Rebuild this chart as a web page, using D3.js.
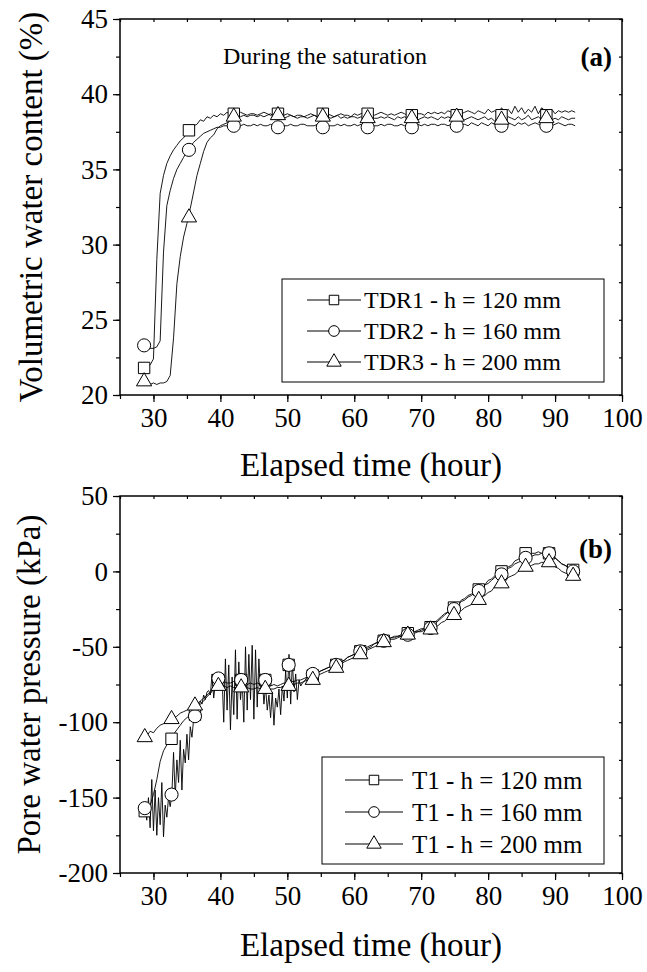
<!DOCTYPE html>
<html>
<head>
<meta charset="utf-8">
<script src="https://cdn.jsdelivr.net/npm/d3@7"></script>
<style>
  body { margin: 0; background: #fff; }
  text { font-family: "Liberation Serif", "Times New Roman", serif; fill: #000; }
</style>
</head>
<body>
<svg id="fig" width="647" height="972"></svg>
<script>
// ---------- data ----------
// top panel: volumetric water content (%), one sample every 0.5 h from 28.5 h to 93 h
const tdr1 = [
  21.8, 21.9, 22.0, 22.4, 29.0, 33.4, 34.6, 35.4, 35.9, 36.3,
  36.6, 36.9, 37.1, 37.4, 37.7, 37.9, 38.0, 38.3, 38.2, 38.5,
  38.4, 38.6, 38.5, 38.7, 38.6, 38.8, 38.6, 38.7, 38.7, 38.8,
  38.7, 38.6, 38.7, 38.7, 38.6, 38.7, 38.8, 38.7, 38.6, 38.7,
  38.6, 38.5, 38.6, 38.7, 38.6, 38.5, 38.6, 38.6, 38.5, 38.6,
  38.7, 38.6, 38.5, 38.6, 38.6, 38.7, 38.6, 38.5, 38.6, 38.7,
  38.6, 38.6, 38.5, 38.7, 38.6, 38.7, 38.8, 38.6, 38.7, 38.6,
  38.7, 38.8, 38.7, 38.6, 38.7, 38.6, 38.7, 38.8, 38.7, 38.6,
  38.7, 38.8, 38.7, 38.7, 38.6, 38.8, 38.7, 38.8, 38.7, 38.8,
  38.7, 38.9, 38.8, 38.7, 38.8, 38.7, 38.8, 38.9, 38.8, 38.7,
  38.9, 38.8, 38.7, 39.0, 38.8, 38.9, 38.7, 39.1, 38.8, 39.0,
  38.7, 39.2, 38.8, 39.1, 38.7, 39.0, 38.8, 39.2, 38.7, 39.1,
  38.9, 38.8, 39.0, 38.7, 38.9, 38.8, 38.9, 38.8, 38.9, 38.8
];
const tdr2 = [
  23.3, 23.2, 23.1, 23.1, 23.2, 23.6, 29.5, 32.6, 33.6, 34.4,
  35.0, 35.4, 35.8, 36.2, 36.5, 36.8, 37.0, 37.2, 37.4, 37.5,
  37.6, 37.7, 37.8, 37.8, 37.9, 37.9, 37.9, 38.0, 37.9, 37.9,
  38.0, 37.9, 37.9, 38.0, 37.9, 38.0, 37.9, 37.9, 38.0, 37.9,
  37.9, 38.0, 37.9, 37.9, 38.0, 37.9, 37.9, 38.0, 38.0, 37.9,
  37.9, 37.9, 38.0, 37.9, 38.0, 37.9, 37.9, 37.9, 38.0, 37.9,
  38.0, 37.9, 37.9, 38.0, 37.9, 38.0, 37.9, 37.9, 38.0, 37.9,
  37.9, 38.0, 37.9, 38.0, 38.0, 37.9, 37.9, 38.0, 37.9, 38.0,
  37.9, 38.0, 38.0, 37.9, 38.0, 37.9, 38.0, 38.0, 37.9, 38.0,
  38.0, 37.9, 38.0, 38.1, 37.9, 38.0, 38.0, 37.9, 38.1, 38.0,
  37.9, 38.1, 38.0, 37.9, 38.1, 38.0, 38.1, 37.9, 38.0, 38.1,
  38.0, 37.9, 38.1, 38.0, 38.1, 37.9, 38.0, 38.1, 38.0, 37.9,
  38.1, 38.0, 37.9, 38.0, 38.1, 38.0, 37.9, 38.0, 38.0, 37.9
];
const tdr3 = [
  20.9, 20.8, 20.7, 20.8, 20.7, 20.8, 20.8, 20.9, 21.3, 23.8,
  27.4, 29.2, 30.5, 31.4, 32.4, 33.5, 34.6, 35.4, 36.2, 36.8,
  37.1, 37.3, 37.7, 37.9, 38.0, 38.1, 38.3, 38.5, 38.6, 38.5,
  38.6, 38.5, 38.6, 38.6, 38.5, 38.6, 38.5, 38.6, 38.7, 38.5,
  38.6, 38.5, 38.4, 38.5, 38.6, 38.5, 38.4, 38.5, 38.5, 38.4,
  38.5, 38.6, 38.5, 38.4, 38.5, 38.5, 38.4, 38.5, 38.6, 38.4,
  38.5, 38.4, 38.5, 38.5, 38.4, 38.5, 38.4, 38.5, 38.6, 38.4,
  38.4, 38.5, 38.4, 38.5, 38.4, 38.3, 38.5, 38.4, 38.5, 38.4,
  38.4, 38.5, 38.3, 38.4, 38.5, 38.4, 38.5, 38.4, 38.3, 38.5,
  38.4, 38.5, 38.4, 38.3, 38.5, 38.4, 38.3, 38.4, 38.5, 38.4,
  38.3, 38.4, 38.5, 38.3, 38.4, 38.2, 38.5, 38.4, 38.3, 38.5,
  38.4, 38.3, 38.5, 38.3, 38.4, 38.6, 38.3, 38.4, 38.5, 38.3,
  38.4, 38.5, 38.3, 38.4, 38.3, 38.5, 38.4, 38.3, 38.4, 38.4
];
// symbols drawn on top of the raw records
const tdrMarkTime = [28.6, 35.3, 42.0, 48.6, 55.3, 62.0, 68.6, 75.3, 82.0, 88.7];
const tdr1Mark = [21.8, 37.6, 38.7, 38.7, 38.7, 38.7, 38.6, 38.6, 38.6, 38.6];
const tdr2Mark = [23.3, 36.3, 37.9, 37.8, 37.8, 37.8, 37.8, 37.9, 37.9, 37.9];
const tdr3Mark = [20.9, 31.8, 38.5, 38.6, 38.5, 38.4, 38.4, 38.5, 38.3, 38.4];

// bottom panel: pore water pressure (kPa)
// h = 120 and h = 200: every 0.5 h from 28.5 h to 93 h
const t120 = [
  -159, -158, -155, -148, -138, -126, -119, -115, -111, -108,
  -105, -102, -99, -97, -95, -93, -91, -88, -86, -83,
  -81, -78, -75, -73, -73, -74, -74, -73, -74, -73,
  -74, -75, -74, -75, -74, -75, -75, -76, -76, -75,
  -76, -75, -74, -74, -73, -73, -72, -72, -71, -70,
  -70, -68, -67, -66, -65, -64, -63, -62, -61, -60,
  -59, -57, -56, -55, -54, -53, -52, -50, -49, -48,
  -47, -46, -45, -45, -44, -43, -43, -42, -41, -41,
  -40, -40, -39, -38, -38, -37, -36, -34, -32, -30,
  -28, -27, -25, -23, -22, -19, -18, -16, -15, -13,
  -12, -10, -9, -6, -5, -3, -2, 0, 1, 3,
  4, 7, 8, 10, 11, 12, 12, 12, 13, 12,
  12, 12, 11, 9, 7, 5, 4, 3, 1, 1
];
const t200 = [
  -110, -109, -106, -107, -104, -102, -101, -100, -98, -97,
  -96, -94, -93, -92, -91, -89, -88, -86, -84, -82,
  -80, -78, -76, -76, -76, -77, -76, -77, -77, -77,
  -78, -77, -78, -78, -77, -78, -78, -79, -78, -78,
  -77, -77, -76, -76, -75, -75, -74, -74, -73, -72,
  -72, -70, -69, -68, -67, -66, -65, -64, -63, -62,
  -60, -59, -58, -57, -56, -55, -54, -52, -51, -50,
  -49, -48, -47, -46, -45, -45, -44, -43, -43, -42,
  -42, -41, -40, -40, -39, -39, -38, -37, -36, -34,
  -33, -31, -30, -29, -27, -26, -24, -23, -22, -20,
  -19, -17, -16, -14, -13, -10, -10, -8, -7, -4,
  -3, -2, 0, 1, 3, 3, 4, 5, 5, 6,
  6, 6, 5, 3, 2, 0, -1, -2, -3, -3
];
// h = 160: every 0.25 h from 28.5 h to 52.5 h (noisy part) ...
const t160a = [
  -157, -158, -165, -150, -170, -138, -172, -145,
  -175, -150, -168, -140, -176, -155, -163, -150,
  -156, -148, -120, -150, -125, -140, -112, -145,
  -118, -127, -108, -125, -103, -110, -98, -96,
  -92, -90, -86, -88, -82, -85, -80, -79,
  -82, -68, -84, -74, -77, -72, -78, -70,
  -100, -58, -92, -62, -105, -70, -95, -52,
  -98, -60, -85, -72, -100, -50, -92, -55,
  -85, -49, -98, -52, -90, -58, -80, -70,
  -88, -76, -92, -82, -97, -80, -102, -84,
  -90, -78, -95, -76, -86, -66, -84, -55,
  -88, -60, -80, -68, -85, -72, -76, -74,
  -73
];
// ... then every 0.5 h from 53 h to 93 h
const t160b = [
  -70, -69, -67, -67, -66, -65, -64, -63, -62, -61,
  -60, -59, -57, -56, -55, -54, -53, -52, -51, -50,
  -48, -47, -47, -46, -45, -44, -44, -43, -43, -42,
  -42, -41, -40, -40, -39, -38, -38, -37, -35, -33,
  -31, -29, -27, -26, -24, -22, -20, -19, -17, -16,
  -14, -13, -11, -9, -8, -6, -4, -3, -2, 0,
  2, 3, 5, 6, 7, 9, 10, 10, 11, 11,
  12, 12, 12, 11, 9, 7, 5, 4, 2, 1,
  0
];
const pwpMarkTime = [28.7, 32.7, 36.2, 39.7, 43.1, 46.7, 50.2, 53.8, 57.3, 60.9,
                     64.4, 68.0, 71.4, 74.9, 78.6, 82.0, 85.6, 89.1, 92.7];
const t120Mark = [-159, -111, -95, -72, -72, -72, -62, -69, -62, -53,
                  -46, -41, -37, -24, -12, 0, 12, 12, 1];
const t160Mark = [-157, -148, -96, -71, -72, -72, -62, -68, -62, -53,
                  -46, -42, -37.5, -25, -13, -2, 9, 12, 0];
const t200Mark = [-110, -98, -89, -76, -77, -78, -76, -72, -64, -55,
                  -47, -42, -38.6, -29, -19, -8, 3, 6, -3];

const xTicks = [30, 40, 50, 60, 70, 80, 90, 100];
const topYTicks = [20, 25, 30, 35, 40, 45];
const botYTicks = [-200, -150, -100, -50, 0, 50];
const topLegend = ["TDR1 - h = 120 mm", "TDR2 - h = 160 mm", "TDR3 - h = 200 mm"];
const botLegend = ["T1 - h = 120 mm", "T1 - h = 160 mm", "T1 - h = 200 mm"];

// ---------- drawing ----------
const serif = '"Liberation Serif", "Times New Roman", serif';
const svg = d3.select("#fig");
const halfHour = d3.range(tdr1.length).map(i => 28.5 + i * 0.5);
const t160Time = d3.range(t160a.length).map(i => 28.5 + i * 0.25)
  .concat(d3.range(t160b.length).map(i => 53 + i * 0.5));

const shapes = [d3.symbolSquare, d3.symbolCircle, d3.symbolTriangle];
const shapeSize = [130, 135, 100];

function panel(cfg) {
  const x = d3.scaleLinear().domain([25, 100]).range([120, 622]);
  const y = d3.scaleLinear().domain(cfg.yDomain).range([cfg.bottom, cfg.top]);
  const g = svg.append("g");

  // minor ticks
  const xMinor = d3.range(25, 101, 5);
  const yMinor = d3.range(cfg.yDomain[0], cfg.yDomain[1] + 0.01, cfg.minorStep);
  const fmt = d => String(d);

  // axes: outward on bottom/left, short inward on top/right
  g.append("g").attr("transform", `translate(0,${cfg.bottom})`)
    .call(d3.axisBottom(x).tickValues(xMinor).tickSize(4).tickFormat(""));
  g.append("g").attr("transform", `translate(0,${cfg.bottom})`)
    .call(d3.axisBottom(x).tickValues(xTicks).tickSize(7).tickPadding(6).tickFormat(fmt));
  g.append("g").attr("transform", "translate(120,0)")
    .call(d3.axisLeft(y).tickValues(yMinor).tickSize(4).tickFormat(""));
  g.append("g").attr("transform", "translate(120,0)")
    .call(d3.axisLeft(y).tickValues(cfg.yTicks).tickSize(7).tickPadding(5).tickFormat(fmt));
  g.append("g").attr("transform", `translate(0,${cfg.top})`)
    .call(d3.axisBottom(x).tickValues(xMinor).tickSize(3).tickFormat(""));
  g.append("g").attr("transform", "translate(622,0)")
    .call(d3.axisLeft(y).tickValues(yMinor).tickSize(3).tickFormat(""));
  g.selectAll(".domain").remove();
  g.selectAll(".tick line").attr("stroke", "#000").attr("stroke-width", 1.2);
  g.selectAll(".tick text")
    .style("font-family", serif).style("font-size", "27px").attr("fill", "#000");

  g.append("rect")
    .attr("x", 120).attr("y", cfg.top)
    .attr("width", 502).attr("height", cfg.bottom - cfg.top)
    .attr("fill", "none").attr("stroke", "#000").attr("stroke-width", 1.5);

  // raw records
  const line = d3.line().x(d => x(d[0])).y(d => y(d[1]));
  cfg.series.forEach(s => {
    g.append("path")
      .datum(s.time.map((t, i) => [t, s.values[i]]))
      .attr("d", line)
      .attr("fill", "none").attr("stroke", "#000").attr("stroke-width", 0.9);
  });
  // symbols
  cfg.series.forEach((s, k) => {
    const pts = cfg.markTime.map((t, i) => [t, s.marks[i]]);
    g.selectAll(null).data(pts).enter().append("path")
      .attr("transform", d => `translate(${x(d[0])},${y(d[1])})`)
      .attr("d", d3.symbol().type(shapes[k]).size(shapeSize[k]))
      .attr("fill", "#fff").attr("stroke", "#000").attr("stroke-width", 1);
  });

  // axis titles
  g.append("text")
    .attr("transform", `translate(${cfg.yTitleX},${(cfg.top + cfg.bottom) / 2}) rotate(-90)`)
    .attr("text-anchor", "middle").style("font-size", "33px")
    .text(cfg.yTitle);
  g.append("text")
    .attr("x", 371).attr("y", cfg.xTitleY)
    .attr("text-anchor", "middle").style("font-size", "33px")
    .text("Elapsed time (hour)");

  // panel tag
  g.append("text")
    .attr("x", 612).attr("y", cfg.tagY)
    .attr("text-anchor", "end").style("font-size", "27px").style("font-weight", "bold")
    .text(cfg.tag);

  // legend
  const L = cfg.legend;
  g.append("rect")
    .attr("x", L.x).attr("y", L.y).attr("width", L.w).attr("height", L.h)
    .attr("fill", "#fff").attr("stroke", "#000").attr("stroke-width", 1);
  cfg.legendText.forEach((txt, k) => {
    const ry = L.y + L.first + k * L.step;
    g.append("line")
      .attr("x1", L.lx1).attr("x2", L.lx2).attr("y1", ry).attr("y2", ry)
      .attr("stroke", "#000").attr("stroke-width", 1);
    g.append("path")
      .attr("transform", `translate(${(L.lx1 + L.lx2) / 2},${ry})`)
      .attr("d", d3.symbol().type(shapes[k]).size(90))
      .attr("fill", "#fff").attr("stroke", "#000").attr("stroke-width", 1);
    g.append("text")
      .attr("x", L.tx).attr("y", ry).attr("dy", "0.35em")
      .style("font-size", L.font)
      .text(txt);
  });
}

panel({
  yDomain: [20, 45], top: 19, bottom: 395, minorStep: 2.5, yTicks: topYTicks,
  yTitle: "Volumetric water content (%)", yTitleX: 42, xTitleY: 476,
  tag: "(a)", tagY: 66,
  markTime: tdrMarkTime,
  series: [
    { time: halfHour, values: tdr1, marks: tdr1Mark },
    { time: halfHour, values: tdr2, marks: tdr2Mark },
    { time: halfHour, values: tdr3, marks: tdr3Mark }
  ],
  legend: { x: 282, y: 279, w: 322, h: 103, first: 21, step: 31, lx1: 307, lx2: 361, tx: 364, font: "24px" },
  legendText: topLegend
});

panel({
  yDomain: [-200, 50], top: 496, bottom: 873, minorStep: 25, yTicks: botYTicks,
  yTitle: "Pore water pressure (kPa)", yTitleX: 40, xTitleY: 956,
  tag: "(b)", tagY: 558,
  markTime: pwpMarkTime,
  series: [
    { time: halfHour, values: t120, marks: t120Mark },
    { time: t160Time, values: t160a.concat(t160b), marks: t160Mark },
    { time: halfHour, values: t200, marks: t200Mark }
  ],
  legend: { x: 322, y: 757, w: 282, h: 107, first: 23, step: 32, lx1: 345, lx2: 403, tx: 412, font: "25px" },
  legendText: botLegend
});

// note in panel (a)
svg.append("text")
  .attr("x", 223).attr("y", 64)
  .style("font-size", "24px")
  .text("During the saturation");
</script>
</body>
</html>
